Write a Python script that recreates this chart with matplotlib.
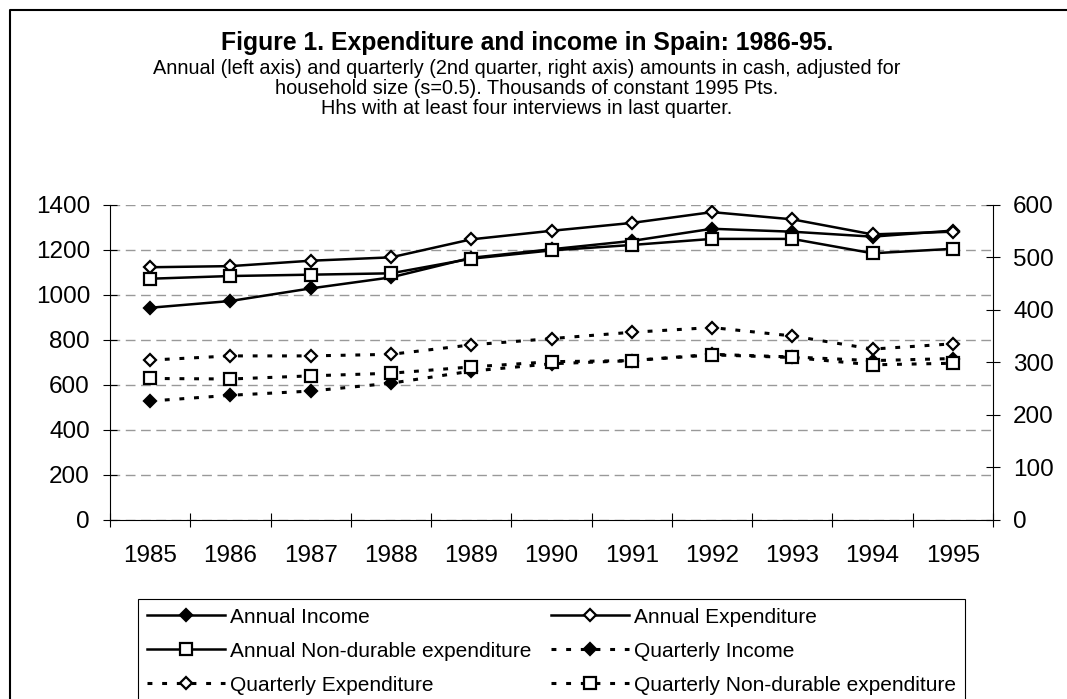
import numpy as np
import matplotlib
matplotlib.use('Agg')
import matplotlib.pyplot as plt
from matplotlib.lines import Line2D

plt.rcParams['font.family'] = ['Liberation Sans', 'DejaVu Sans']

years = ['1985', '1986', '1987', '1988', '1989', '1990', '1991', '1992', '1993', '1994', '1995']
annual_income = [942, 972, 1028, 1077, 1164, 1202, 1239, 1293, 1280, 1258, 1285]
annual_exp = [1122, 1127, 1151, 1166, 1246, 1284, 1319, 1367, 1335, 1268, 1280]
annual_nondur = [1071, 1083, 1089, 1095, 1160, 1197, 1221, 1248, 1248, 1184, 1204]
q_income = [226, 237, 245, 260, 283, 297, 303, 315, 310, 303, 307]
q_exp = [304, 312, 312, 315, 333, 345, 357, 366, 350, 325, 335]
q_nondur = [269, 268, 274, 279, 291, 301, 303, 314, 309, 295, 298]

left_ticks = [0, 200, 400, 600, 800, 1000, 1200, 1400]
right_ticks = [0, 100, 200, 300, 400, 500, 600]

W, H = 1067, 699
fig = plt.figure(figsize=(W / 100, H / 100), dpi=100)
ax = fig.add_axes([110 / W, 179.3 / H, 883 / W, 315 / H])
ax2 = ax.twinx()

x = np.arange(len(years))
dot = (0, (1.6, 3.2))
dms, sms, lw, mew = 6.5, 8.5, 1.8, 1.6

l_ai, = ax.plot(x, annual_income, ls='-', lw=lw, color='k', marker='D', ms=dms,
                mfc='k', mec='k', mew=mew)
l_ae, = ax.plot(x, annual_exp, ls='-', lw=lw, color='k', marker='D', ms=dms,
                mfc='w', mec='k', mew=mew)
l_an, = ax.plot(x, annual_nondur, ls='-', lw=lw, color='k', marker='s', ms=sms,
                mfc='w', mec='k', mew=mew)
l_qi, = ax2.plot(x, q_income, ls=dot, lw=2.2, color='k', marker='D', ms=dms,
                 mfc='k', mec='k', mew=mew)
l_qe, = ax2.plot(x, q_exp, ls=dot, lw=2.2, color='k', marker='D', ms=dms,
                 mfc='w', mec='k', mew=mew)
l_qn, = ax2.plot(x, q_nondur, ls=dot, lw=2.2, color='k', marker='s', ms=sms,
                 mfc='w', mec='k', mew=mew)

ax.set_xlim(-0.5, len(years) - 0.5)
ax.set_ylim(0, 1400)
ax2.set_ylim(0, 600)
ax.set_yticks(left_ticks)
ax2.set_yticks(right_ticks)
ax.set_xticks(x)
ax.set_xticklabels(years)
ax.set_xticks(np.arange(-0.5, len(years), 1.0), minor=True)

ax.tick_params(axis='x', which='major', length=0, pad=18, labelsize=17.5)
ax.tick_params(axis='x', which='minor', length=10, direction='inout', width=0.8)
ax.tick_params(axis='y', length=10, direction='inout', pad=9.4, labelsize=17.5, width=0.8)
ax2.tick_params(axis='y', length=10, direction='inout', pad=9.4, labelsize=17.5, width=0.8)

ax.yaxis.grid(True, color='#999999', ls=(0, (7, 4)), lw=1)
ax.set_axisbelow(True)

for s in ['top', 'right']:
    ax.spines[s].set_visible(False)
for s in ['top', 'left', 'bottom']:
    ax2.spines[s].set_visible(False)
for a in (ax, ax2):
    for s in a.spines.values():
        s.set_linewidth(0.8)
        s.set_color('k')

# title block
cx = 527 / W
fig.text(cx, 1 - 43 / H, 'Figure 1. Expenditure and income in Spain: 1986-95.',
         ha='center', va='center', fontsize=17.8, fontweight='bold')
fig.text(cx, 1 - 68 / H,
         'Annual (left axis) and quarterly (2nd quarter, right axis) amounts in cash, adjusted for',
         ha='center', va='center', fontsize=14.3)
fig.text(cx, 1 - 88 / H, 'household size (s=0.5). Thousands of constant 1995 Pts.',
         ha='center', va='center', fontsize=14.3)
fig.text(cx, 1 - 108 / H, 'Hhs with at least four interviews in last quarter.',
         ha='center', va='center', fontsize=14.3)

# legend
handles = [l_ai, l_an, l_qe, l_ae, l_qi, l_qn]
labels = ['Annual Income', 'Annual Non-durable expenditure', 'Quarterly Expenditure',
          'Annual Expenditure', 'Quarterly Income', 'Quarterly Non-durable expenditure']
leg = fig.legend(handles, labels, ncol=2, loc='upper left',
                 bbox_to_anchor=(138 / W, 0, 827 / W, 1 - 599 / H), mode='expand',
                 borderaxespad=0, fontsize=15, handlelength=3.75, handletextpad=0.25,
                 labelspacing=0.72, borderpad=0.42, fancybox=False, framealpha=1,
                 edgecolor='k')
leg.get_frame().set_linewidth(0.8)

# outer border (top and left)
fig.add_artist(Line2D([10 / W, 10 / W, 1], [0, 1 - 10 / H, 1 - 10 / H],
                      transform=fig.transFigure, color='k', lw=1.5))

fig.savefig('out.png', dpi=100)
